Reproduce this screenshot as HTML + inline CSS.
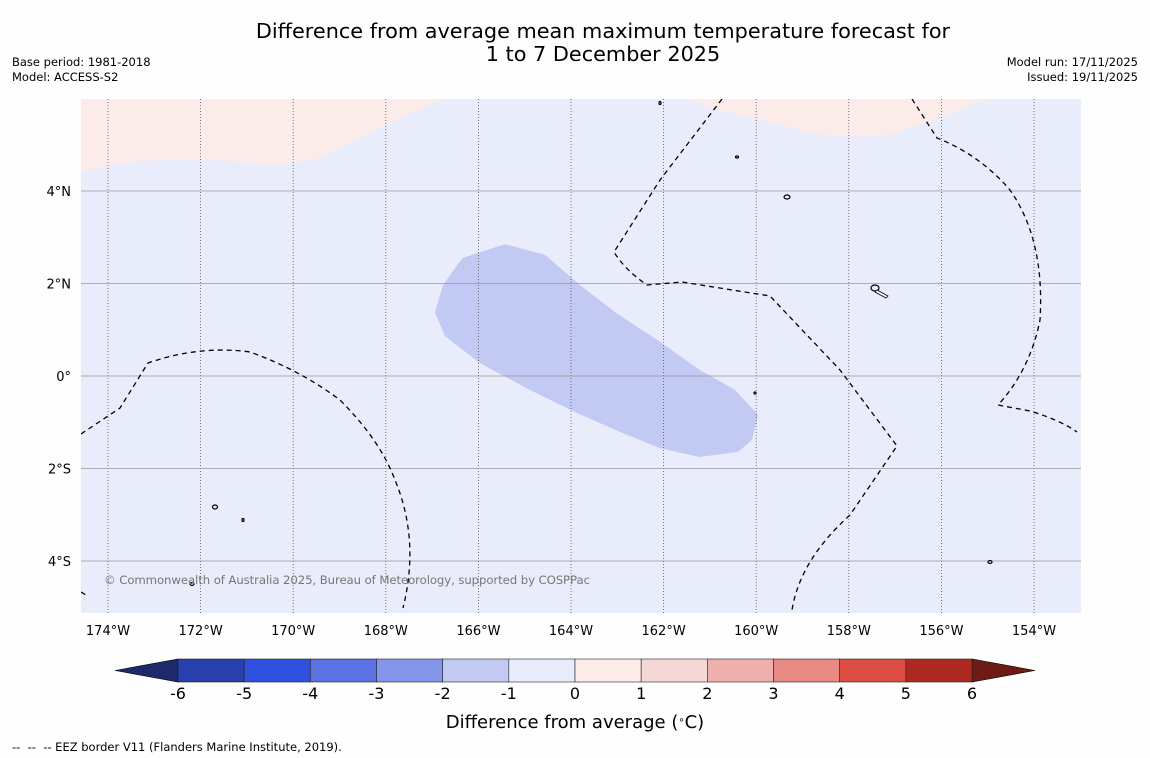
<!DOCTYPE html>
<html><head><meta charset="utf-8"><style>
html,body{margin:0;padding:0;background:#fefefe;width:1150px;height:758px;overflow:hidden;font-family:"DejaVu Sans","Liberation Sans",sans-serif}
svg{display:block}
</style></head><body>
<svg id="chart" width="1150" height="758" xmlns="http://www.w3.org/2000/svg">
<text x="603" y="38" text-anchor="middle" font-size="20.8" fill="#000">Difference from average mean maximum temperature forecast for</text>
<text x="603" y="61" text-anchor="middle" font-size="20.8" fill="#000">1 to 7 December 2025</text>
<text x="12" y="66" font-size="11.5">Base period: 1981-2018</text>
<text x="12" y="81" font-size="11.5">Model: ACCESS-S2</text>
<text x="1138" y="66" font-size="11.5" text-anchor="end">Model run: 17/11/2025</text>
<text x="1138" y="81" font-size="11.5" text-anchor="end">Issued: 19/11/2025</text>
<defs><clipPath id="mc"><rect x="81" y="99" width="1000" height="514"/></clipPath></defs>
<g id="map" clip-path="url(#mc)">
<rect x="81" y="99" width="1000" height="514" fill="#e9ecfb"/>
</g>
<g id="frame"></g>
<text x="104" y="584" font-size="11.7" fill="#777" textLength="486">© Commonwealth of Australia 2025, Bureau of Meteorology, supported by COSPPac</text>
<g id="cbar"></g>
<text x="575" y="728" text-anchor="middle" font-size="18">Difference from average (<tspan baseline-shift="super" font-size="10">∘</tspan>C)</text>
<text x="12" y="751" font-size="11.5" xml:space="preserve">--  --  -- EEZ border V11 (Flanders Marine Institute, 2019).</text>
</svg>
<script>
const NS="http://www.w3.org/2000/svg";
const lonTicks=[-174,-172,-170,-168,-166,-164,-162,-160,-158,-156,-154];
const lonLabels=["174°W","172°W","170°W","168°W","166°W","164°W","162°W","160°W","158°W","156°W","154°W"];
const latTicks=[4,2,0,-2,-4];
const latLabels=["4°N","2°N","0°","2°S","4°S"];
const cbLevels=[-6,-5,-4,-3,-2,-1,0,1,2,3,4,5,6];
const cbColors=["#2a3fae","#2f50de","#5a72e3","#8396eb","#c2c9f3","#e9ecfb","#fcece9","#f5d8d6","#efb0ad","#e88a84","#dd4d43","#ad2a22"];
const pinkLeft=[[-174.58,4.43],[-173.74,4.61],[-172.88,4.67],[-172.01,4.69],[-171.15,4.63],[-170.39,4.56],[-169.57,4.67],[-168.77,5.04],[-168.02,5.43],[-166.76,5.99],[-166.76,6.2],[-175,6.2]];
const pinkRight=[[-161.52,6.2],[-161.52,5.99],[-160.78,5.75],[-159.92,5.54],[-158.77,5.25],[-157.97,5.17],[-157.05,5.23],[-156.03,5.6],[-154.99,5.99],[-154.99,6.2]];
const blob=[[-166.94,1.38],[-166.76,1.97],[-166.35,2.55],[-165.43,2.85],[-164.56,2.62],[-163.81,1.97],[-163.05,1.38],[-162.08,0.74],[-161.22,0.13],[-160.46,-0.30],[-159.96,-0.84],[-160.09,-1.38],[-160.39,-1.64],[-161.22,-1.75],[-162.08,-1.56],[-162.94,-1.21],[-163.91,-0.78],[-164.89,-0.30],[-165.97,0.28],[-166.72,0.86]];
const xS=lon=>108+(lon+174)*46.3;
const yS=lat=>376-lat*46.25;
function el(t,a,p){const e=document.createElementNS(NS,t);for(const k in a)e.setAttribute(k,a[k]);p.appendChild(e);return e;}
const map=document.getElementById('map'),frame=document.getElementById('frame'),cb=document.getElementById('cbar');
function poly(d,fill,name){const e=el('polygon',{points:d.map(p=>xS(p[0])+','+yS(p[1])).join(' '),fill:fill},map);

}
poly(pinkLeft,'#fbece9','warm-region-left');
poly(pinkRight,'#fbece9','warm-region-right');
poly(blob,'#c2c9f3','cool-anomaly-region');
lonTicks.forEach((v,i)=>{const l=el('line',{x1:xS(v),x2:xS(v),y1:99,y2:613,stroke:'#555','stroke-width':0.8,'stroke-dasharray':'1,2'},map);


const t=el('text',{x:xS(v),y:635,'text-anchor':'middle','font-size':13},frame);t.textContent=lonLabels[i];

});
latTicks.forEach((v,i)=>{const l=el('line',{x1:81,x2:1081,y1:yS(v),y2:yS(v),stroke:'#999','stroke-width':0.8},map);


const t=el('text',{x:71,y:yS(v)+5,'text-anchor':'end','font-size':13},frame);t.textContent=latLabels[i];

});
const eez=["M81,434 L120,408 L148,363 Q200,345 250,352 Q300,370 340,400 Q380,440 395,480 Q420,540 403,608",
"M722,99 L660,180 L614,252 Q625,270 647,285 L682,282 L770,296 L840,370 L897,446 L850,515 Q800,560 792,610",
"M912,99 L937,138 Q980,155 1010,190 Q1045,240 1040,320 Q1030,370 998,405 L1030,411 Q1060,420 1077,432",
"M81,592 L86,595"];
eez.forEach(d=>{const p=el('path',{d:d,fill:'none',stroke:'#000','stroke-width':1.3,'stroke-dasharray':'5,4'},map);

});
[[787,197,3,2],[875,288,4,3],[215,507,2.5,2],[192,584,2,1.5],[990,562,2,1.5],[660,103,1,1.5],[737,157,1.5,1],[243,520,1,1.5],[755,393,1,1]].forEach(c=>{
const e=el('ellipse',{cx:c[0],cy:c[1],rx:c[2],ry:c[3],fill:'none',stroke:'#000','stroke-width':1.2},map);

});
const pi=el('path',{d:'M877,290 L888,296 L886,298 L875,292 Z',fill:'#fff',stroke:'#000','stroke-width':0.8},map);


const cx=v=>575+v*66.17;const cy0=659,cy1=682;
const la=el('polygon',{points:`115,670.5 ${cx(-6)},${cy0} ${cx(-6)},${cy1}`,fill:'#1c2a6b',stroke:'#000','stroke-width':0.6},cb);


const ra=el('polygon',{points:`1035,670.5 ${cx(6)},${cy0} ${cx(6)},${cy1}`,fill:'#6e1a15',stroke:'#000','stroke-width':0.6},cb);


cbColors.forEach((c,i)=>{const r=el('rect',{x:cx(cbLevels[i]),y:cy0,width:cx(cbLevels[i+1])-cx(cbLevels[i]),height:cy1-cy0,fill:c,stroke:'#222','stroke-width':0.6},cb);

});
cbLevels.forEach(v=>{const t=el('text',{x:cx(v),y:699,'text-anchor':'middle','font-size':16},cb);t.textContent=v;

});
</script>
</body></html>
